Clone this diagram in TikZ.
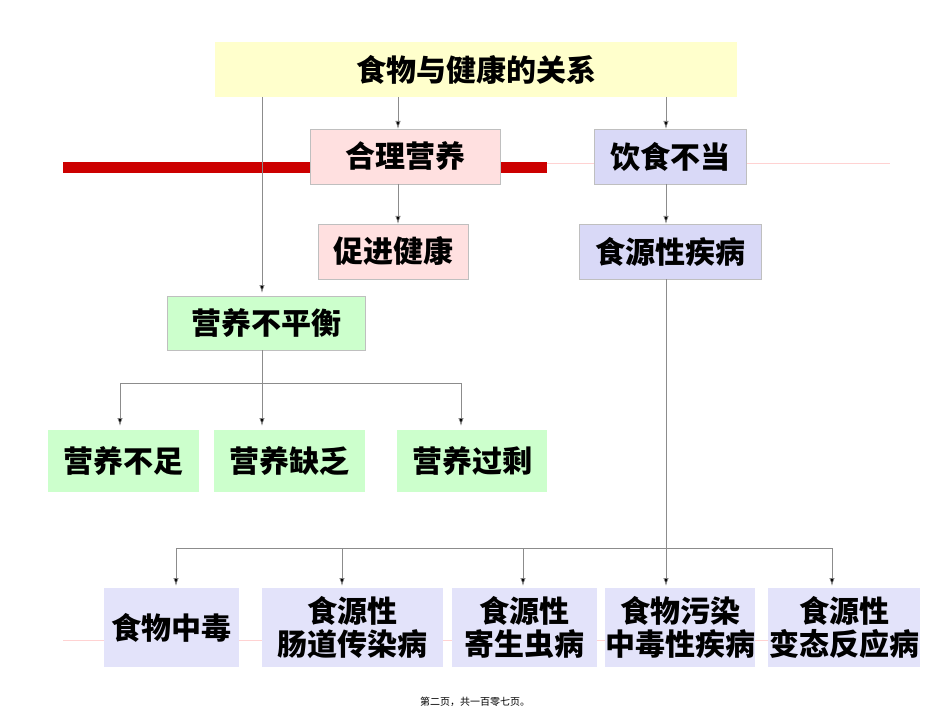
\documentclass[tikz,border=0pt]{standalone}
\usepackage{fontspec}
\setmainfont{Noto Sans CJK SC Black}
\usetikzlibrary{arrows.meta}
\definecolor{yel}{HTML}{FFFFCC}
\definecolor{pnk}{HTML}{FFE0E0}
\definecolor{lav}{HTML}{D9D9F7}
\definecolor{grn}{HTML}{CCFFCC}
\definecolor{lav2}{HTML}{E3E3FA}
\definecolor{rbar}{HTML}{CC0000}
\tikzset{
 bx/.style={draw=black!25,line width=0.6pt,inner sep=0pt,font=\fontsize{22.5}{24.5}\selectfont,align=center},
 conn/.style={draw=black!45,line width=0.5pt},
 arr/.style={conn,-{Latex[length=6pt,width=4pt,fill=black]}},
}
\begin{document}
\begin{tikzpicture}[x=0.75pt,y=-0.75pt]
\useasboundingbox (0,0) rectangle (950,713);
\fill[white] (0,0) rectangle (950,713);
\draw[pnk!80!red!60,line width=0.6pt] (547,163) -- (890,163);
\draw[pnk!80!red!60,line width=0.6pt] (63,640) -- (920,640);
\fill[rbar] (63,162) rectangle (547,173);
\node[bx,fill=yel,draw=none,minimum width=522*0.75pt,minimum height=55*0.75pt] (top) at (476,69.5) {食物与健康的关系};
\node[bx,fill=pnk,minimum width=190*0.75pt,minimum height=55*0.75pt] (hl) at (405,156.5) {合理营养};
\node[bx,fill=lav,minimum width=152*0.75pt,minimum height=55*0.75pt] (ys) at (670,156.5) {饮食不当};
\node[bx,fill=pnk,minimum width=150*0.75pt,minimum height=55*0.75pt] (cj) at (393,251.5) {促进健康};
\node[bx,fill=lav,minimum width=182*0.75pt,minimum height=55*0.75pt] (sy) at (670,251.5) {食源性疾病};
\node[bx,fill=grn,minimum width=198*0.75pt,minimum height=54*0.75pt] (bph) at (266,323) {营养不平衡};
\node[bx,fill=grn,draw=none,minimum width=151*0.75pt,minimum height=62*0.75pt] (bz) at (123.5,461) {营养不足};
\node[bx,fill=grn,draw=none,minimum width=151*0.75pt,minimum height=62*0.75pt] (qf) at (289.5,461) {营养缺乏};
\node[bx,fill=grn,draw=none,minimum width=150*0.75pt,minimum height=62*0.75pt] (gs) at (472,461) {营养过剩};
\node[bx,fill=lav2,draw=none,minimum width=135*0.75pt,minimum height=79*0.75pt] (b1) at (171.5,627.5) {食物中毒};
\node[bx,fill=lav2,draw=none,minimum width=181*0.75pt,minimum height=79*0.75pt] (b2) at (352.5,627.5) {食源性\\肠道传染病};
\node[bx,fill=lav2,draw=none,minimum width=145*0.75pt,minimum height=79*0.75pt] (b3) at (524.5,627.5) {食源性\\寄生虫病};
\node[bx,fill=lav2,draw=none,minimum width=150*0.75pt,minimum height=79*0.75pt] (b4) at (680,627.5) {食物污染\\中毒性疾病};
\node[bx,fill=lav2,draw=none,minimum width=152*0.75pt,minimum height=79*0.75pt] (b5) at (844,627.5) {食源性\\变态反应病};
\coordinate (j1) at (262,383);
\coordinate (j2) at (666,548);
\draw[arr] (398,97) -- (398,129);
\draw[arr] (666,97) -- (666,129);
\draw[arr] (398,184) -- (398,224);
\draw[arr] (666,184) -- (666,224);
\draw[arr] (262,97) -- (262,293);
\draw[conn] (262,350) -- (j1);
\draw[arr] (j1) -| (120,426);
\draw[arr] (j1) -- (262,426);
\draw[arr] (j1) -| (461,426);
\draw[arr] (666,279) -- (666,586);
\draw[arr] (j2) -| (176,586);
\draw[arr] (342,548) -- (342,586);
\draw[arr] (523,548) -- (523,586);
\draw[arr] (j2) -| (832,586);
\node[font=\fontspec{Noto Sans CJK SC}\fontsize{7.5}{9}\selectfont] (ft) at (475,702) {第二页，共一百零七页。};
\end{tikzpicture}
\end{document}
